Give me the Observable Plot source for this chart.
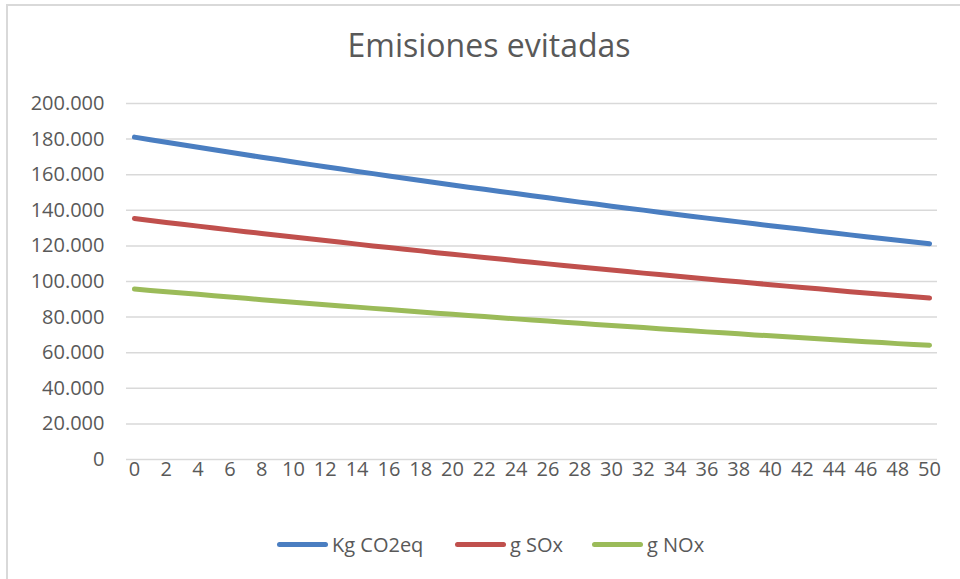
<!DOCTYPE html>
<html>
<head>
<meta charset="utf-8">
<script src="https://cdn.jsdelivr.net/npm/d3@7"></script>
<script src="https://cdn.jsdelivr.net/npm/@observablehq/plot@0.6"></script>
<style>
  html, body { margin: 0; padding: 0; background: #fff; overflow: hidden; }
  #wrap { position: relative; width: 960px; height: 579px; font-family: "Open Sans", sans-serif; color: #595959; }
  #frame { position: absolute; left: 6px; top: 4px; width: 1000px; height: 700px; border: 2px solid #d9d9d9; box-sizing: border-box; pointer-events: none; }
  #title { height: 80px; box-sizing: border-box; padding-top: 26px; padding-left: 18px; text-align: center; font-size: 32px; line-height: 38px; color: #595959; }
  #legend { position: relative; height: 69px; }
  .item { position: absolute; top: 21px; display: flex; align-items: center; font-size: 20px; color: #595959; }
  .sw { width: 51px; height: 5px; border-radius: 3px; margin-right: 4px; }
  svg { display: block; }
</style>
</head>
<body>
<div id="wrap">
  <div id="title">Emisiones evitadas</div>
  <div id="chart"></div>
  <div id="legend"></div>
  <div id="frame"></div>
</div>
<script>
const years = [0,1,2,3,4,5,6,7,8,9,10,11,12,13,14,15,16,17,18,19,20,21,22,23,24,25,26,27,28,29,30,31,32,33,34,35,36,37,38,39,40,41,42,43,44,45,46,47,48,49,50];
const co2 = [181100,179600,178200,176800,175400,174000,172600,171200,169800,168500,167100,165800,164500,163200,161800,160600,159300,158000,156700,155500,154200,153000,151800,150600,149400,148200,147000,145800,144600,143500,142300,141200,140100,138900,137800,136700,135600,134600,133500,132400,131300,130300,129300,128200,127200,126200,125200,124200,123200,122200,121200];
const sox = [135400,134300,133200,132200,131100,130100,129000,128000,127000,126000,125000,124000,123000,122000,121000,120000,119100,118100,117200,116200,115300,114400,113500,112600,111700,110800,109900,109000,108100,107300,106400,105600,104700,103900,103100,102200,101400,100600,99800,99000,98200,97400,96600,95900,95100,94300,93600,92800,92100,91400,90700];
const nox = [95800,95000,94300,93500,92800,92000,91300,90600,89800,89100,88400,87700,87000,86300,85600,84900,84300,83600,82900,82200,81600,80900,80300,79600,79000,78400,77800,77100,76500,75900,75300,74700,74100,73500,72900,72300,71700,71200,70600,70000,69500,68900,68400,67800,67300,66700,66200,65700,65100,64600,64200];
const seriesNames = ["Kg CO2eq", "g SOx", "g NOx"];
const seriesColors = ["#4A7EC1", "#C0504D", "#9BBB59"];
const xTicks = [0,2,4,6,8,10,12,14,16,18,20,22,24,26,28,30,32,34,36,38,40,42,44,46,48,50];
const yTicks = [0,20000,40000,60000,80000,100000,120000,140000,160000,180000,200000];

const esFormat = d3.formatLocale({decimal: ",", thousands: ".", grouping: [3], currency: ["", "€"]}).format(",");

const seriesValues = [co2, sox, nox];
const rows = [];
seriesValues.forEach((vals, si) => {
  vals.forEach((v, i) => rows.push({year: years[i], value: v, series: seriesNames[si]}));
});

const plot = Plot.plot({
  width: 960,
  height: 430,
  marginLeft: 126,
  marginRight: 23,
  marginTop: 23,
  marginBottom: 51,
  style: {fontFamily: "Open Sans, sans-serif", fontSize: "20px", color: "#595959", background: "#fff"},
  x: {domain: [-0.5, 50.5], ticks: xTicks, tickSize: 0, tickPadding: 2, label: null, tickFormat: d => String(d)},
  y: {domain: [0, 200000], ticks: yTicks, tickSize: 0, tickPadding: 22, label: null, tickFormat: esFormat},
  color: {domain: seriesNames, range: seriesColors},
  marks: [
    Plot.gridY(yTicks, {stroke: "#d9d9d9", strokeOpacity: 1, strokeWidth: 1.5}),
    Plot.axisX({ticks: xTicks, tickSize: 0, tickPadding: 2, fill: "#595959", fontSize: 20, tickFormat: d => String(d)}),
    Plot.axisY({ticks: yTicks, tickSize: 0, tickPadding: 22, fill: "#595959", fontSize: 20, tickFormat: esFormat}),
    Plot.line(rows, {x: "year", y: "value", z: "series", stroke: "series", strokeWidth: 5, strokeLinecap: "round", strokeLinejoin: "round"})
  ]
});
document.getElementById("chart").appendChild(plot);

const legend = document.getElementById("legend");
const lefts = [277, 455, 592];
seriesNames.forEach((name, i) => {
  const item = document.createElement("div");
  item.className = "item";
  item.style.left = lefts[i] + "px";
  const sw = document.createElement("div");
  sw.className = "sw";
  sw.style.background = seriesColors[i];
  const t = document.createElement("span");
  t.textContent = name;
  item.appendChild(sw);
  item.appendChild(t);
  legend.appendChild(item);
});
</script>
</body>
</html>
